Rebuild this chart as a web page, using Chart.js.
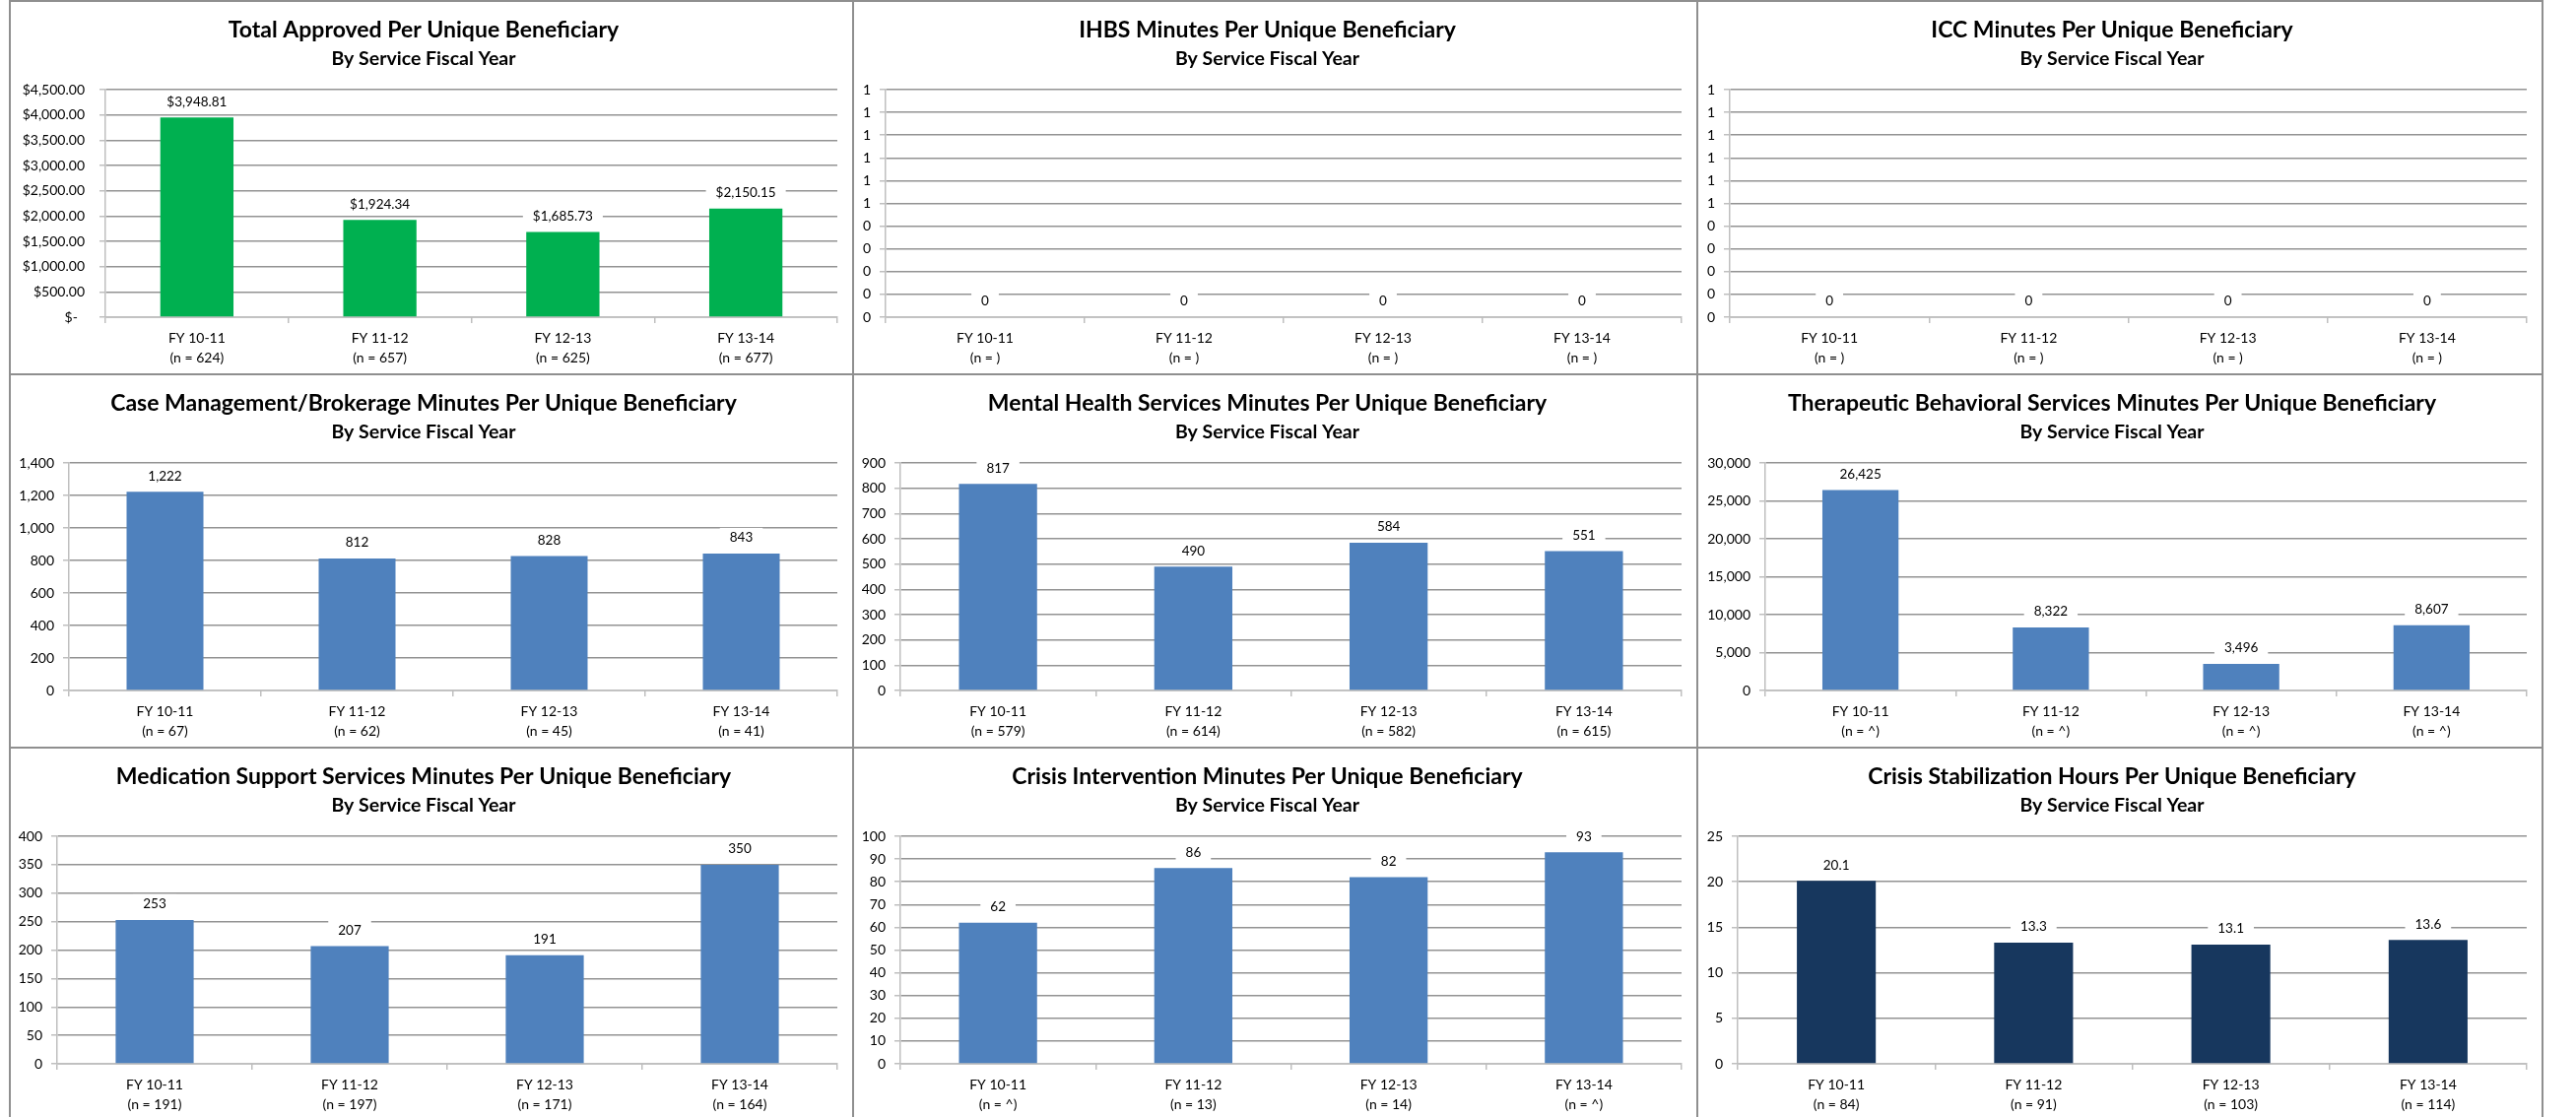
<!DOCTYPE html>
<html>
<head>
<meta charset="utf-8">
<title>Per Unique Beneficiary By Service Fiscal Year</title>
<script src="https://cdn.jsdelivr.net/npm/chart.js@4.4.1/dist/chart.umd.min.js"></script>
<style>
  html, body { margin: 0; padding: 0; background: #fff; }
  body { width: 2615px; height: 1134px; overflow: hidden; position: relative; font-family: Lato, sans-serif; }
  .panel { position: absolute; }
  .line { position: absolute; background: #8f8f8f; }
</style>
</head>
<body>
<div id="board"></div>
<script>
// ---- data ----
const fiscalYears = ['FY 10-11', 'FY 11-12', 'FY 12-13', 'FY 13-14'];

const totalApproved = [3948.81, 1924.34, 1685.73, 2150.15];
const totalApprovedN = ['624', '657', '625', '677'];

const ihbsMinutes = [0, 0, 0, 0];
const ihbsN = ['', '', '', ''];

const iccMinutes = [0, 0, 0, 0];
const iccN = ['', '', '', ''];

const caseMgmtMinutes = [1222, 812, 828, 843];
const caseMgmtN = ['67', '62', '45', '41'];

const mentalHealthMinutes = [817, 490, 584, 551];
const mentalHealthN = ['579', '614', '582', '615'];

const tbsMinutes = [26425, 8322, 3496, 8607];
const tbsN = ['^', '^', '^', '^'];

const medSupportMinutes = [253, 207, 191, 350];
const medSupportN = ['191', '197', '171', '164'];

const crisisIntMinutes = [62, 86, 82, 93];
const crisisIntN = ['^', '13', '14', '^'];

const crisisStabHours = [20.1, 13.3, 13.1, 13.6];
const crisisStabN = ['84', '91', '103', '114'];

const subtitleText = 'By Service Fiscal Year';

// ---- formats ----
const fmtInt = v => Number(v).toLocaleString('en-US', { maximumFractionDigits: 0 });
const fmtOne = v => Number(v).toFixed(1);
const fmtMoney = v => '$' + Number(v).toLocaleString('en-US', { minimumFractionDigits: 2, maximumFractionDigits: 2 });
const fmtMoneyTick = v => (v === 0 ? '$-  ' : fmtMoney(v));
const fmtRound = v => String(Math.round(Math.round(v * 10) / 10));

// ---- layout ----
const colX = [10, 866, 1723, 2581];
const rowY = [1, 380, 759];
const panelH = 379;

const GREEN = '#00B050';
const BLUE = '#4F81BD';
const NAVY = '#17375E';

const panels = [
  { title: 'Total Approved Per Unique Beneficiary', values: totalApproved, n: totalApprovedN, color: GREEN, max: 4500, step: 500, tick: fmtMoneyTick, label: fmtMoney, axisW: 97, tickPad: 15 },
  { title: 'IHBS Minutes Per Unique Beneficiary', values: ihbsMinutes, n: ihbsN, color: BLUE, max: 1, step: 0.1, tick: fmtRound, label: fmtInt, axisW: 33 },
  { title: 'ICC Minutes Per Unique Beneficiary', values: iccMinutes, n: iccN, color: BLUE, max: 1, step: 0.1, tick: fmtRound, label: fmtInt, axisW: 33 },
  { title: 'Case Management/Brokerage Minutes Per Unique Beneficiary', values: caseMgmtMinutes, n: caseMgmtN, color: BLUE, max: 1400, step: 200, tick: fmtInt, label: fmtInt, axisW: 60 },
  { title: 'Mental Health Services Minutes Per Unique Beneficiary', values: mentalHealthMinutes, n: mentalHealthN, color: BLUE, max: 900, step: 100, tick: fmtInt, label: fmtInt, axisW: 48 },
  { title: 'Therapeutic Behavioral Services Minutes Per Unique Beneficiary', values: tbsMinutes, n: tbsN, color: BLUE, max: 30000, step: 5000, tick: fmtInt, label: fmtInt, axisW: 69 },
  { title: 'Medication Support Services Minutes Per Unique Beneficiary', values: medSupportMinutes, n: medSupportN, color: BLUE, max: 400, step: 50, tick: fmtInt, label: fmtInt, axisW: 48 },
  { title: 'Crisis Intervention Minutes Per Unique Beneficiary', values: crisisIntMinutes, n: crisisIntN, color: BLUE, max: 100, step: 10, tick: fmtInt, label: fmtInt, axisW: 48 },
  { title: 'Crisis Stabilization Hours Per Unique Beneficiary', values: crisisStabHours, n: crisisStabN, color: NAVY, max: 25, step: 5, tick: fmtInt, label: fmtOne, axisW: 41 }
];

// value labels sitting on a white box above each bar
const valueLabels = {
  id: 'valueLabels',
  afterDatasetsDraw(chart, args, opts) {
    const ctx = chart.ctx;
    const meta = chart.getDatasetMeta(0);
    const data = chart.data.datasets[0].data;
    ctx.save();
    ctx.font = '13.5px Lato';
    ctx.textAlign = 'center';
    ctx.textBaseline = 'middle';
    meta.data.forEach((bar, i) => {
      const text = opts.format(data[i]);
      const w = ctx.measureText(text).width + 20;
      const y = bar.y - 16;
      ctx.fillStyle = '#fff';
      ctx.fillRect(bar.x - w / 2, y - 10, w, 20);
      ctx.fillStyle = '#000';
      ctx.fillText(text, bar.x, y);
    });
    ctx.restore();
  }
};

const board = document.getElementById('board');

panels.forEach((p, i) => {
  const c = i % 3, r = Math.floor(i / 3);
  const w = colX[c + 1] - colX[c];
  const div = document.createElement('div');
  div.className = 'panel';
  div.style.left = colX[c] + 'px';
  div.style.top = rowY[r] + 'px';
  const canvas = document.createElement('canvas');
  canvas.width = w;
  canvas.height = panelH;
  div.appendChild(canvas);
  board.appendChild(div);

  new Chart(canvas.getContext('2d'), {
    type: 'bar',
    data: {
      labels: fiscalYears.map((fy, k) => [fy, `(n = ${p.n[k]})`]),
      datasets: [{
        data: p.values,
        backgroundColor: p.color,
        borderWidth: 0,
        barPercentage: 0.4,
        categoryPercentage: 1.0
      }]
    },
    options: {
      responsive: false,
      animation: false,
      layout: { padding: { left: 0, right: 16, top: 0, bottom: 0 } },
      plugins: {
        legend: { display: false },
        tooltip: { enabled: false },
        title: {
          display: true,
          text: p.title,
          color: '#000',
          font: { family: 'Lato', size: 23, weight: 'bold', lineHeight: 1.2 },
          padding: { top: 16, bottom: 3 }
        },
        subtitle: {
          display: true,
          text: subtitleText,
          color: '#000',
          font: { family: 'Lato', size: 19.5, weight: 'bold', lineHeight: 1.2 },
          padding: { top: 0, bottom: 20 }
        },
        valueLabels: { format: p.label }
      },
      scales: {
        x: {
          offset: true,
          grid: { offset: true, drawOnChartArea: false, drawTicks: true, tickLength: 6, color: '#bfbfbf', lineWidth: 1.5 },
          border: { display: true, color: '#bfbfbf', width: 1.5 },
          ticks: { color: '#000', padding: 5, maxRotation: 0, autoSkip: false, font: { family: 'Lato', size: 14, lineHeight: '20px' } },
          afterFit(scale) { scale.height = 58; }
        },
        y: {
          min: 0,
          max: p.max,
          ticks: { stepSize: p.step, color: '#000', padding: p.tickPad || 9, callback: v => p.tick(v), font: { family: 'Lato', size: 14 } },
          grid: { color: '#939393', lineWidth: 1.5, tickLength: 6, tickColor: '#bfbfbf', drawTicks: true },
          border: { display: true, color: '#bfbfbf', width: 1.5 },
          afterFit(scale) { scale.width = p.axisW; }
        }
      }
    },
    plugins: [valueLabels]
  });
});

// panel frame lines
colX.forEach(x => {
  const d = document.createElement('div');
  d.className = 'line';
  d.style.left = (x - 1) + 'px'; d.style.top = '0px';
  d.style.width = '2px'; d.style.height = '1134px';
  board.appendChild(d);
});
rowY.forEach(y => {
  const d = document.createElement('div');
  d.className = 'line';
  d.style.left = (colX[0] - 1) + 'px'; d.style.top = (y - 1) + 'px';
  d.style.width = (colX[3] - colX[0] + 2) + 'px'; d.style.height = '2px';
  board.appendChild(d);
});
</script>
</body>
</html>
